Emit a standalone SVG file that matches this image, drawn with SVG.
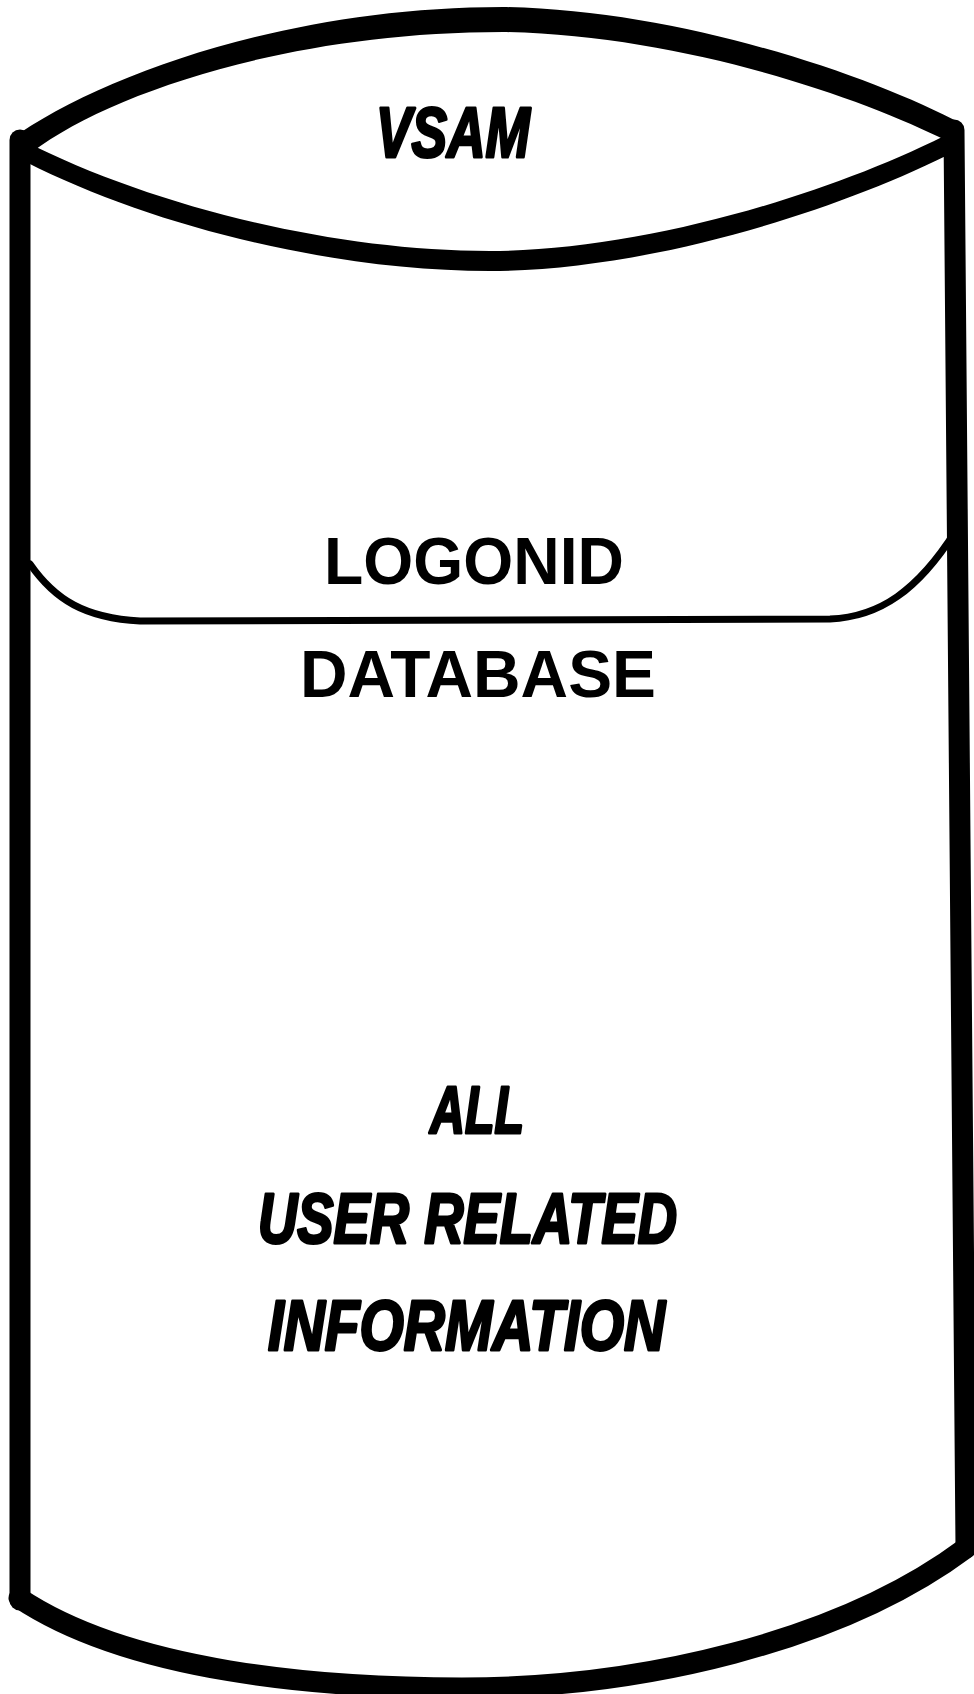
<svg xmlns="http://www.w3.org/2000/svg" width="974" height="1694" viewBox="0 0 974 1694">
  <style>
    .ink { fill: #000; }
    .line { fill: none; stroke: #000; stroke-linecap: round; stroke-linejoin: round; }
    .wall { stroke-width: 21; }
    .base { stroke-width: 21; }
    .band { stroke-width: 7; }
    .hand { font-family: "Liberation Sans", Arial, sans-serif; font-weight: bold; font-style: italic; fill: #000; stroke: #000; stroke-width: 3; stroke-linejoin: round; }
    .block { font-family: "Liberation Sans", Arial, Helvetica, sans-serif; font-weight: bold; fill: #000; }
  </style>
  <rect width="974" height="1694" fill="#fff"/>

  <!-- cylinder outline -->
  <g id="cylinder">
    <!-- back rim of the lid -->
    <path class="ink" d="M 10 140 C 100 75, 290 7, 503 7 C 680 10, 870 75, 962 124 L 947 141 C 860 97, 680 35, 503 32 C 290 32, 110 93, 32 152 Z"/>
    <!-- front rim of the lid -->
    <path class="ink" d="M 24 141 C 150 205, 330 251, 490 251 C 640 251, 830 195, 954 131 L 958 150 C 830 215, 640 271, 490 271 C 330 271, 150 225, 26 162 Z"/>
    <!-- side walls -->
    <path class="line wall" d="M 20 140 L 20 1600"/>
    <path class="line wall" d="M 954 130 L 966 1548"/>
    <!-- base -->
    <path class="line base" d="M 19 1598 C 130 1672, 320 1688, 462 1688 C 640 1688, 840 1642, 966 1548"/>
    <!-- inner band under the record name -->
    <path class="line band" d="M 30 564 C 55 600, 85 618, 140 621 L 830 619 C 880 617, 918 590, 955 532"/>
  </g>

  <!-- labels -->
  <g id="labels">
    <text class="hand" x="376" y="157" font-size="70" textLength="154" lengthAdjust="spacingAndGlyphs">VSAM</text>
    <text class="block" x="324" y="584" font-size="66" textLength="300" lengthAdjust="spacingAndGlyphs">LOGONID</text>
    <text class="block" x="300" y="697" font-size="66" textLength="356" lengthAdjust="spacingAndGlyphs">DATABASE</text>
    <text class="hand" x="430" y="1133" font-size="66" textLength="94" lengthAdjust="spacingAndGlyphs">ALL</text>
    <text class="hand" x="258" y="1243" font-size="70" textLength="419" lengthAdjust="spacingAndGlyphs">USER RELATED</text>
    <text class="hand" x="268" y="1350" font-size="70" textLength="397" lengthAdjust="spacingAndGlyphs">INFORMATION</text>
  </g>
</svg>
